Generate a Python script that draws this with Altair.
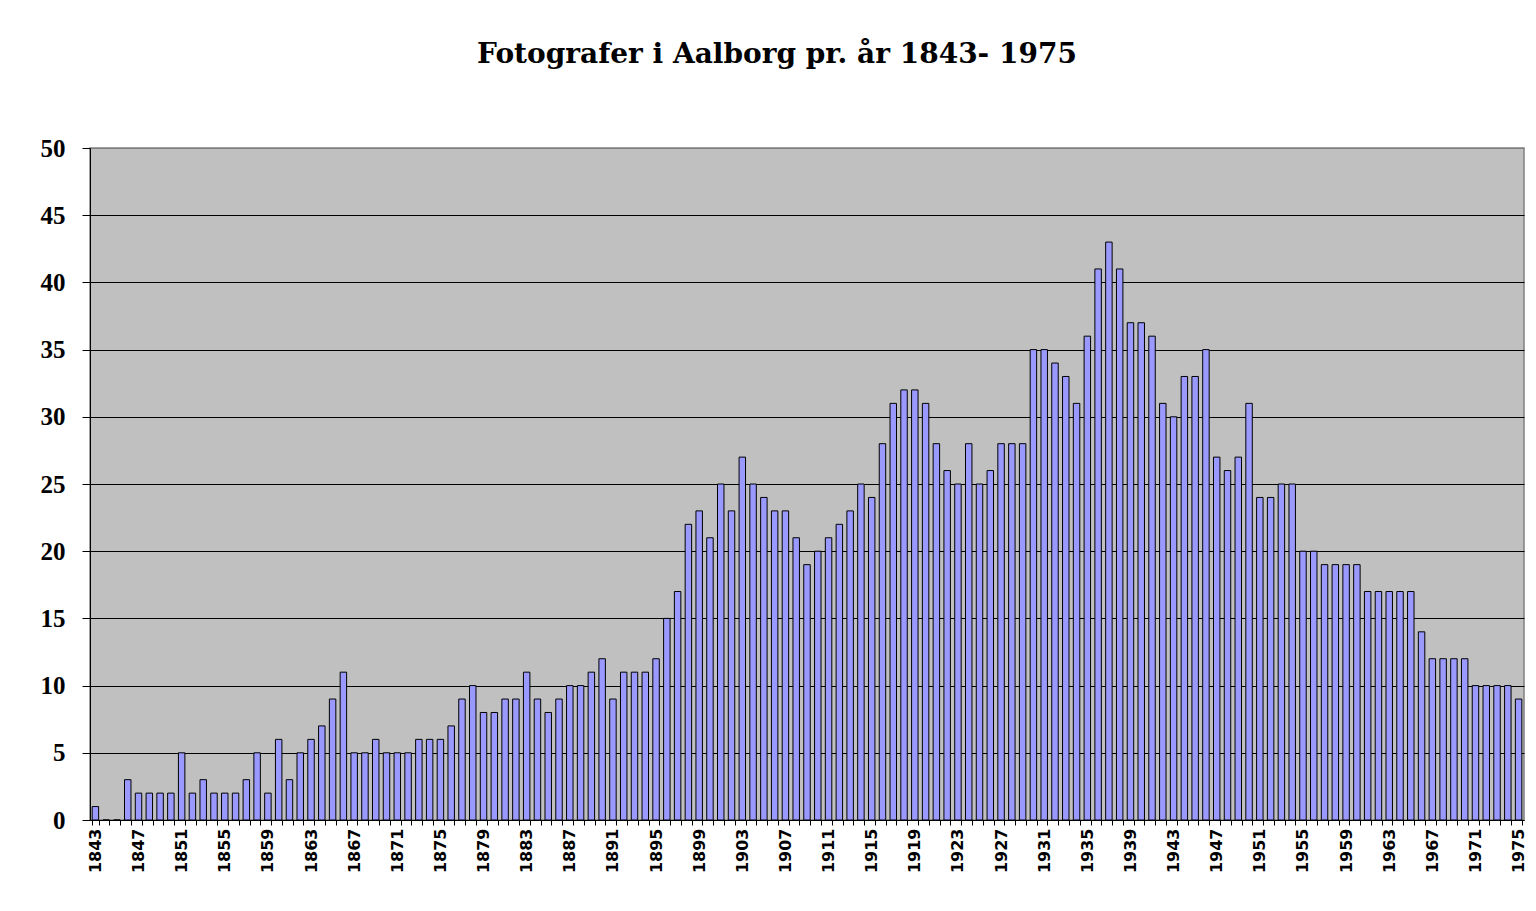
import altair as alt
import pandas as pd

title_text = "Fotografer i Aalborg pr. år 1843- 1975"

years = list(range(1843, 1976))
counts = [
    1, 0, 0, 3, 2, 2, 2, 2, 5, 2,          # 1843-1852
    3, 2, 2, 2, 3, 5, 2, 6, 3, 5,          # 1853-1862
    6, 7, 9, 11, 5, 5, 6, 5, 5, 5,         # 1863-1872
    6, 6, 6, 7, 9, 10, 8, 8, 9, 9,         # 1873-1882
    11, 9, 8, 9, 10, 10, 11, 12, 9, 11,    # 1883-1892
    11, 11, 12, 15, 17, 22, 23, 21, 25, 23,  # 1893-1902
    27, 25, 24, 23, 23, 21, 19, 20, 21, 22,  # 1903-1912
    23, 25, 24, 28, 31, 32, 32, 31, 28, 26,  # 1913-1922
    25, 28, 25, 26, 28, 28, 28, 35, 35, 34,  # 1923-1932
    33, 31, 36, 41, 43, 41, 37, 37, 36, 31,  # 1933-1942
    30, 33, 33, 35, 27, 26, 27, 31, 24, 24,  # 1943-1952
    25, 25, 20, 20, 19, 19, 19, 19, 17, 17,  # 1953-1962
    17, 17, 17, 14, 12, 12, 12, 12, 10, 10,  # 1963-1972
    10, 10, 9,                               # 1973-1975
]
y_ticks = [0, 5, 10, 15, 20, 25, 30, 35, 40, 45, 50]

df = pd.DataFrame({"year": [str(y) for y in years], "count": counts})

bars = alt.Chart(df).mark_bar(
    fill="#9999FF", stroke="black", strokeWidth=1
).encode(
    x=alt.X(
        "year:O",
        sort=None,
        scale=alt.Scale(paddingInner=0.4, paddingOuter=0.2),
        axis=alt.Axis(
            title=None,
            labelAngle=270,
            labelAlign="right",
            labelBaseline="middle",
            labelFont="DejaVu Sans",
            labelFontWeight="bold",
            labelFontSize=16,
            labelColor="black",
            labelPadding=3,
            labelOverlap=False,
            labelBound=False,
            tickBand="extent",
            tickSize=5,
            tickColor="black",
            domainColor="black",
            domainWidth=1,
            labelExpr="(toNumber(datum.value) - 1843) % 4 == 0 ? datum.value : ''",
        ),
    ),
    y=alt.Y(
        "count:Q",
        scale=alt.Scale(domain=[0, 50], nice=False),
        axis=alt.Axis(
            title=None,
            values=y_ticks,
            grid=True,
            gridColor=alt.condition("datum.value == 50", alt.value("#808080"), alt.value("black")),
            gridWidth=1.2,
            labelFont="Liberation Serif",
            labelFontWeight="bold",
            labelFontSize=25,
            labelColor="black",
            labelPadding=17,
            tickSize=8,
            tickColor="black",
            domainColor="black",
            domainWidth=1,
        ),
    ),
)

title = alt.Chart(alt.Data(values=[{"t": title_text}])).mark_text(
    font="DejaVu Serif", fontWeight="bold", fontSize=28,
    baseline="alphabetic", align="center", color="black"
).encode(
    text="t:N",
    x=alt.value(687),
    y=alt.value(-85),
)

chart = alt.layer(bars, title).properties(
    width=1434,
    height=672,
    autosize=alt.AutoSizeParams(type="none"),
    padding={"left": 82, "top": 140, "right": 4, "bottom": 70},
).configure(
    background="white"
).configure_view(
    fill="#C0C0C0", stroke="#808080", strokeWidth=1.5
)

chart.save("out.html", embed_options={"renderer": "svg", "actions": False})
